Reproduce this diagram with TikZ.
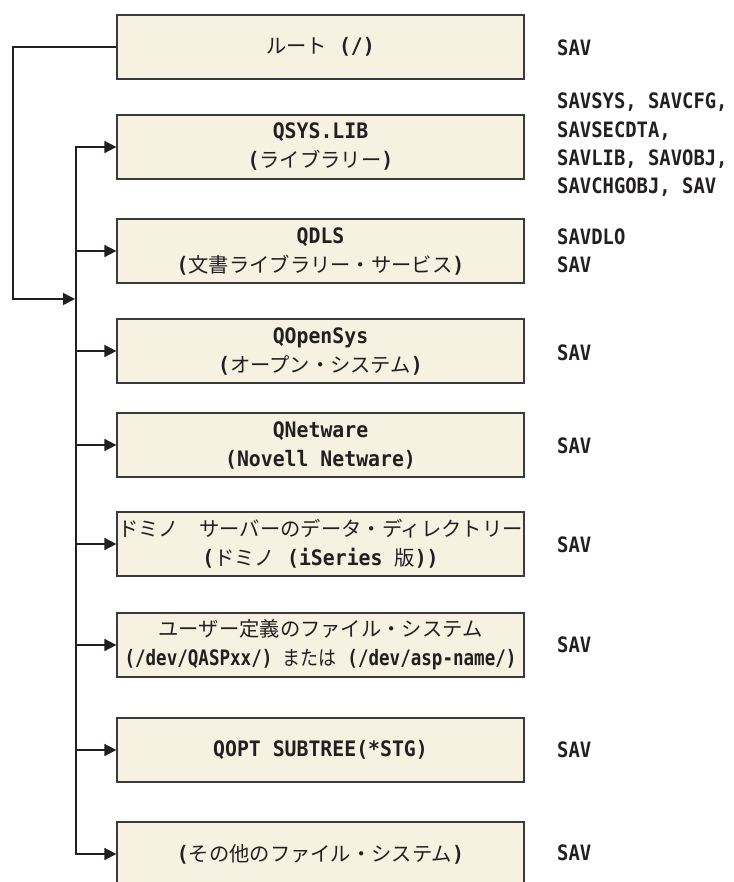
\documentclass[tikz,border=0pt]{standalone}
\usepackage{fontspec}
\usepackage{graphicx}
\usetikzlibrary{arrows.meta}
\newfontfamily\monobox{DejaVu Sans Mono}[FakeStretch=0.93]
\newfontfamily\monolab{DejaVu Sans Mono}[FakeStretch=0.89]
\newfontfamily\jpfont{Noto Sans CJK JP}
\newcommand\J[1]{{\jpfont\mdseries\fontsize{20.3}{29}\selectfont #1}}
\definecolor{boxfill}{HTML}{F6F1E0}
\definecolor{boxline}{HTML}{3A3A3A}
\definecolor{ink}{HTML}{231F20}
\begin{document}
\begin{tikzpicture}[x=1pt,y=-1pt,
  fsbox/.style={draw=boxline, line width=1.2pt, fill=boxfill, minimum width=407pt, minimum height=64pt, inner sep=0pt, align=center, text=ink, font=\monobox\bfseries\fontsize{21.3}{29}\selectfont},
  savlabel/.style={anchor=west, inner sep=0pt, align=left, text=ink, font=\monolab\bfseries\fontsize{21.2}{28.3}\selectfont},
  conn/.style={line width=1.6pt, draw=ink},
  arr/.style={conn, -{Triangle[length=12pt,width=12pt]}}]
\useasboundingbox (0,0) rectangle (733,882);
\clip (0,0) rectangle (733,882);

\node[fsbox] (root) at (320.5,47) {\J{ルート} (/)};
\node[fsbox] (qsys) at (320.5,147) {QSYS.LIB\\(\J{ライブラリー})};
\node[fsbox] (qdls) at (320.5,251) {QDLS\\(\J{文書ライブラリー・サービス})};
\node[fsbox] (qopen) at (320.5,351) {QOpenSys\\(\J{オープン・システム})};
\node[fsbox] (qnet) at (320.5,445) {QNetware\\(Novell Netware)};
\node[fsbox] (dom) at (320.5,544) {\J{ドミノ　サーバーのデータ・ディレクトリー}\\(\J{ドミノ} (iSeries \J{版}))};
\node[fsbox] (user) at (320.5,645) {\J{ユーザー定義のファイル・システム}\\\resizebox{392pt}{\height}{(/dev/QASPxx/) \J{または} (/dev/asp-name/)}};
\node[fsbox] (qopt) at (320.5,750) {QOPT SUBTREE(*STG)};
\node[fsbox] (other) at (320.5,854) {(\J{その他のファイル・システム})};

\node[savlabel] (l1) at (557,48) {SAV};
\node[savlabel] (l2) at (557,145) {SAVSYS, SAVCFG,\\SAVSECDTA,\\SAVLIB, SAVOBJ,\\SAVCHGOBJ, SAV};
\node[savlabel] (l3) at (557,250.5) {SAVDLO\\SAV};
\node[savlabel] (l4) at (557,353) {SAV};
\node[savlabel] (l5) at (557,446) {SAV};
\node[savlabel] (l6) at (557,545) {SAV};
\node[savlabel] (l7) at (557,645) {SAV};
\node[savlabel] (l8) at (557,750) {SAV};
\node[savlabel] (l9) at (557,853) {SAV};

\coordinate (trunk) at (76,0);
\coordinate (loopx) at (13,0);
\coordinate (join) at (75,299);
\draw[arr] (root.west) -| (loopx |- join) -- (join);
\draw[conn, line cap=rect] (trunk |- qsys.west) -- (trunk |- other.west);
\foreach \b in {qsys,qdls,qopen,qnet,dom,user,qopt,other}
  \draw[arr] (trunk |- \b.west) -- (\b.west);
\end{tikzpicture}
\end{document}
